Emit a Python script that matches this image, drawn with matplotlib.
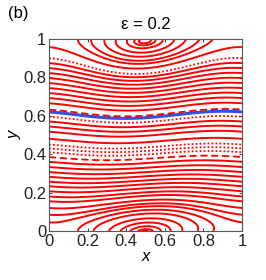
import numpy as np
import matplotlib
matplotlib.use("Agg")
import matplotlib.pyplot as plt

plt.rcParams['font.family'] = ['Liberation Sans', 'DejaVu Sans']
plt.rcParams['contour.negative_linestyle'] = 'solid'

# curves crossing the left edge (x = 0): y position and style
open_y0 = [0.045, 0.085, 0.12, 0.155, 0.18, 0.207, 0.233, 0.257, 0.282, 0.307,
           0.333, 0.36, 0.385, 0.41, 0.43, 0.45, 0.48, 0.517, 0.544, 0.57,
           0.595, 0.62, 0.632, 0.665, 0.692, 0.718, 0.744, 0.77, 0.796, 0.822,
           0.848, 0.874, 0.90, 0.957]
open_style = ['-', '-', '-', '-', '-', '-', '-', '-', '-', '-',
              '-', '-', '--', ':', ':', ':', '-', '-', '-', '-',
              ':', 'blue', '--', '-', '-', '-', '-', '-', '-', '-',
              '-', '-', ':', '-']
# closed orbits: left crossing of the bottom (y=0) and top (y=1) walls
bottom_x0 = [0.15, 0.23, 0.31, 0.37, 0.42, 0.46, 0.485]
top_x0 = [0.15, 0.22, 0.29, 0.35, 0.41, 0.45, 0.48]
eps = 0.2

e1 = 0.045
a = -0.047


def psi(x, y):
    return (-np.cos(np.pi * y) * (1 + e1 * np.cos(2 * np.pi * (x - 0.5)))
            + a * np.sin(np.pi * y) * np.sin(2 * np.pi * (x - 0.62)))


xg = np.linspace(0, 1, 600)
yg = np.linspace(0, 1, 600)
X, Y = np.meshgrid(xg, yg)
P = psi(X, Y)

fig = plt.figure(figsize=(2.66, 2.80), dpi=100)
ax = fig.add_axes([0.184, 0.175, 0.726, 0.686])

for y0, st in zip(open_y0, open_style):
    lev = psi(0.0, y0)
    if st == 'blue':
        ax.contour(X, Y, P, levels=[lev], colors='#3050e0', linewidths=2.2,
                   linestyles='solid')
    elif st == ':':
        ax.contour(X, Y, P, levels=[lev], colors='red', linewidths=1.3,
                   linestyles=[(0, (1, 1.2))])
    elif st == '--':
        ax.contour(X, Y, P, levels=[lev], colors='red', linewidths=1.3,
                   linestyles=[(0, (4, 2))])
    else:
        ax.contour(X, Y, P, levels=[lev], colors='red', linewidths=1.4,
                   linestyles='solid')

for x0 in bottom_x0:
    ax.contour(X, Y, P, levels=[psi(x0, 0.0)], colors='red', linewidths=1.4,
               linestyles='solid')
for x0 in top_x0:
    ax.contour(X, Y, P, levels=[psi(x0, 1.0)], colors='red', linewidths=1.4,
               linestyles='solid')

ticks = [0, 0.2, 0.4, 0.6, 0.8, 1]
labels = ['0', '0.2', '0.4', '0.6', '0.8', '1']
ax.set_xlim(0, 1)
ax.set_ylim(0, 1)
ax.set_xticks(ticks)
ax.set_xticklabels(labels)
ax.set_yticks(ticks)
ax.set_yticklabels(labels)
ax.tick_params(direction='in', length=2.5, width=0.6, top=True, right=True,
               labelsize=12, pad=2, colors='#222222')
for sp in ax.spines.values():
    sp.set_linewidth(0.8)
    sp.set_color('#555555')
ax.set_xlabel('x', fontsize=12, style='italic', labelpad=0)
ax.set_ylabel('y', fontsize=12, style='italic', labelpad=1)
ax.set_title('ε = %.1f' % eps, fontsize=12, pad=7)
fig.text(0.03, 0.935, '(b)', fontsize=12)

fig.savefig('out.png', dpi=100)
